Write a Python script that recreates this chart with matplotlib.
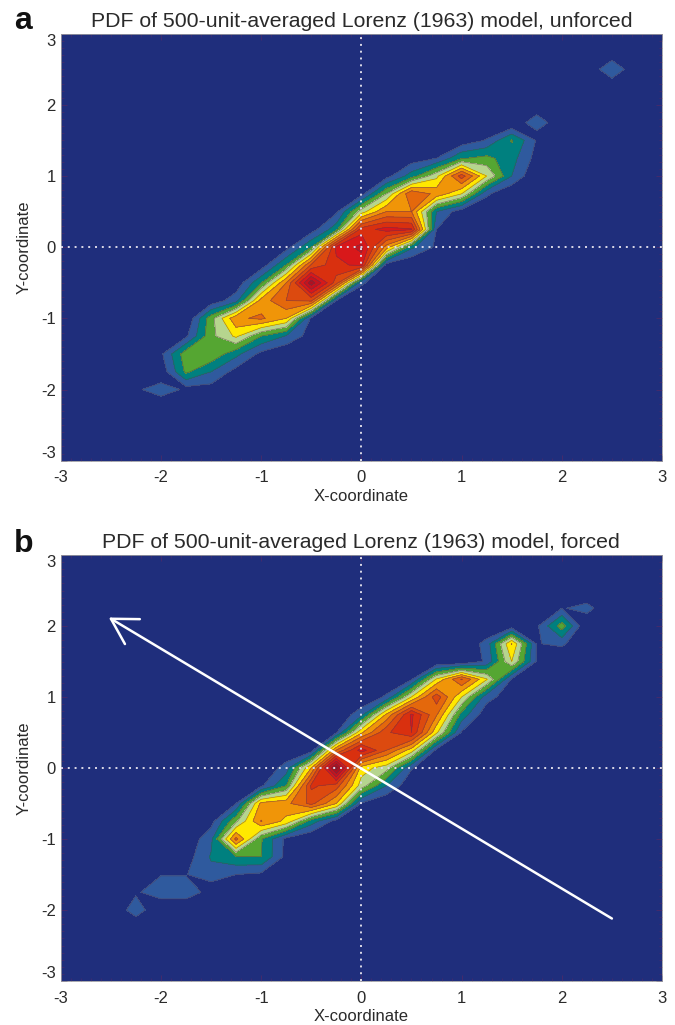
import numpy as np
import matplotlib
matplotlib.use("Agg")
import matplotlib.pyplot as plt

plt.rcParams['font.family'] = ['Liberation Sans', 'DejaVu Sans']
plt.rcParams['axes.unicode_minus'] = False

# Grid of the density field: bins of 0.25 in both coordinates
grid_x = [-3 + 0.25 * i for i in range(25)]
grid_y = [-3 + 0.25 * i for i in range(25)]

# Panel a, rows: (y, first x, density values in contour-level units)
a_r01 = (-2.00, -1.75, [0.55, 0.53, 0.2])
a_r02 = (-1.75, -2.00, [0.3, 3.2, 2.0, 0.6])
a_r03 = (-1.50, -2.00, [0.8, 3.6, 3.8, 2.3, 0.7])
a_r04 = (-1.25, -1.75, [0.8, 3.7, 5.2, 3.0, 1.9, 0.5])
a_r05 = (-1.00, -1.50, [3.6, 6.8, 7.2, 6.0, 0.8])
a_r06 = (-0.75, -1.50, [0.3, 1.6, 6.4, 8.0, 8.2, 1.0])
a_r07 = (-0.50, -1.25, [0.3, 2.9, 7.0, 12.6, 8.5, 1.2])
a_r08 = (-0.25, -1.00, [0.4, 3.0, 8.1, 9.7, 10.3, 0.5])
a_r09 = (0.00, -0.75, [0.6, 3.0, 10.3, 11.3, 6.5, 2.2, 0.8])
a_r10 = (0.25, -0.50, [0.5, 2.6, 9.5, 10.4, 10.1, 1.0])
a_r11 = (0.50, -0.25, [0.8, 4.5, 7.0, 7.0, 2.0, 0.4])
a_r12 = (0.75, 0.00, [0.6, 4.0, 7.9, 6.7, 5.0, 1.2])
a_r13 = (1.00, 0.25, [0.6, 2.5, 4.7, 8.5, 5.0, 2.0])
a_r14 = (1.25, 0.50, [0.4, 1.0, 2.9, 3.3, 2.4, 0.6])
a_r15 = (1.50, 1.00, [0.3, 1.1, 3.1, 0.9])
a_rows = [a_r01, a_r02, a_r03, a_r04, a_r05, a_r06, a_r07, a_r08,
          a_r09, a_r10, a_r11, a_r12, a_r13, a_r14, a_r15]
# Isolated patches of panel a, drawn on their own
a_patch1 = [(-2.00, -2.25, [0.8, 1.6, 0.8])]
a_patch2 = [(1.75, 1.75, [1.8])]
a_patch3 = [(2.50, 2.50, [2.0])]
a_patches = [a_patch1, a_patch2, a_patch3]

# Panel b, rows
b_r01 = (-1.50, -1.75, [0.95, 1.7, 1.0, 0.8])
b_r02 = (-1.25, -1.75, [0.5, 2.1, 2.9, 3.0, 0.7])
b_r03 = (-1.00, -1.75, [0.2, 1.7, 7.3, 3.1, 0.7])
b_r04 = (-0.75, -1.50, [0.6, 3.8, 7.05, 5.7, 2.5, 0.6])
b_r05 = (-0.50, -1.25, [1.0, 6.3, 6.7, 8.3, 6.0, 0.9])
b_r06 = (-0.25, -1.00, [0.8, 3.0, 9.2, 8.5, 4.5, 2.0, 0.2])
b_r07 = (0.00, -0.75, [1.5, 6.0, 13.5, 5.5, 4.4, 1.1])
b_r08 = (0.25, -0.50, [0.5, 7.0, 10.5, 8.0, 5.5, 0.7])
b_r09 = (0.50, -0.25, [0.9, 5.8, 8.8, 10.0, 5.2, 0.9])
b_r10 = (0.75, 0.00, [1.7, 6.2, 10.2, 7.1, 2.6, 0.3])
b_r11 = (1.00, 0.25, [1.2, 5.0, 8.6, 5.0, 1.4, 0.4])
b_r12 = (1.25, 0.50, [0.9, 5.1, 8.1, 5.1, 0.9, 0.3])
b_r13 = (1.50, 1.25, [1.2, 5.0, 0.9])
b_r14 = (1.75, 1.25, [1.4, 6.05, 0.9])
b_r15 = (2.00, 1.50, [0.4])
b_rows = [b_r01, b_r02, b_r03, b_r04, b_r05, b_r06, b_r07, b_r08,
          b_r09, b_r10, b_r11, b_r12, b_r13, b_r14, b_r15]
# Isolated patches of panel b
b_patch1 = [(-2.00, -2.25, [1.6]), (-1.75, -2.25, [0.85])]
b_patch2 = [(-1.75, -2.25, [0.85, 1.6, 1.6, 0.6]), (-1.50, -2.00, [0.95, 0.95])]
b_patch3 = [(1.75, 1.75, [0.95, 1.2, 0.0]), (2.00, 1.75, [0.8, 3.5, 0.0]),
            (2.25, 2.00, [1.0])]
b_patch4 = [(2.25, 2.00, [0.9, 1.4, 0.0])]
b_patches = [b_patch1, b_patch2, b_patch3, b_patch4]

title_a = "PDF of 500-unit-averaged Lorenz (1963) model, unforced"
title_b = "PDF of 500-unit-averaged Lorenz (1963) model, forced"
tick_values = [-3, -2, -1, 0, 1, 2, 3]
minor_tick_values = [round(-3 + 0.1 * i, 1) for i in range(61)]
x_label = "X-coordinate"
y_label = "Y-coordinate"
arrow_tail = (2.5, -2.12)
arrow_head = (-2.52, 2.12)

level_values = list(range(0, 15))
level_colors = ['#1f2e7c', '#2f5a9e', '#00807f', '#55a632', '#b6d58e', '#ffe800',
                '#f09508', '#e4680c', '#dc4a0f', '#d9300f', '#d8181a', '#c6131e',
                '#b01020', '#9c1020']
LINE = '#5d3a4e'
TEXT = '#2a2a2a'


def field(rows):
    z = np.zeros((len(grid_y), len(grid_x)))
    for y, x0, vals in rows:
        j = int(round((y + 3) / 0.25))
        i0 = int(round((x0 + 3) / 0.25))
        z[j, i0:i0 + len(vals)] = vals
    return z


def draw(ax, rows, patches, title):
    layers = [field(rows)] + [field(p) for p in patches]
    for k, z in enumerate(layers):
        if k == 0:
            ax.contourf(grid_x, grid_y, z, levels=level_values, colors=level_colors, zorder=1)
        else:
            ax.contourf(grid_x, grid_y, z, levels=level_values[1:], colors=level_colors[1:], zorder=1.5)
        ax.contour(grid_x, grid_y, z, levels=level_values[1:], colors=LINE,
                   linewidths=0.5, alpha=0.6, zorder=2)
    ax.axhline(0, color='#dcdae8', lw=1.4, ls=(0, (1, 2.5)), zorder=3)
    ax.axvline(0, color='#dcdae8', lw=1.4, ls=(0, (1, 2.5)), zorder=3)
    ax.set_xlim(-3, 3)
    ax.set_ylim(-3, 3)
    ax.set_xticks(tick_values)
    ax.set_yticks(tick_values)
    ax.set_xticks(minor_tick_values, minor=True)
    ax.set_yticks(minor_tick_values, minor=True)
    ax.tick_params(which='major', direction='in', length=4, width=0.6, color='#4a2a6a',
                   top=True, right=True, labelsize=12, labelcolor=TEXT)
    ax.tick_params(which='minor', direction='in', length=2.2, width=0.5, color='#4a2a6a',
                   top=True, right=True)
    ax.tick_params(axis='x', which='major', pad=7)
    ax.tick_params(axis='y', which='major', pad=3.5)
    ylabels = ax.get_yticklabels()
    ylabels[0].set_va('bottom')
    ylabels[-1].set_va('top')
    for s in ax.spines.values():
        s.set_linewidth(0.6)
        s.set_color('#9a9aa0')
    ax.set_xlabel(x_label, fontsize=12, color=TEXT, labelpad=2.5)
    ax.set_ylabel(y_label, fontsize=12, color=TEXT, labelpad=7)
    ax.set_title(title, fontsize=15.3, color=TEXT, pad=5)


W, H = 675, 1025
fig = plt.figure(figsize=(W / 100, H / 100), dpi=100)
ax_a = fig.add_axes([60.7 / W, 1 - 460.7 / H, 601.3 / W, 427 / H])
ax_b = fig.add_axes([60.7 / W, 1 - 981 / H, 601.3 / W, 426 / H])
draw(ax_a, a_rows, a_patches, title_a)
draw(ax_b, b_rows, b_patches, title_b)
ax_b.annotate('', xy=arrow_head, xytext=arrow_tail, zorder=5,
              arrowprops=dict(arrowstyle='->,head_length=1,head_width=0.58', mutation_scale=18,
                              color='white', lw=1.8, shrinkA=0, shrinkB=0))
fig.text(14 / W, 1 - 29 / H, 'a', fontsize=23, fontweight='bold', color='#111111')
fig.text(14 / W, 1 - 552 / H, 'b', fontsize=23, fontweight='bold', color='#111111')
fig.savefig('out.png', dpi=100)
